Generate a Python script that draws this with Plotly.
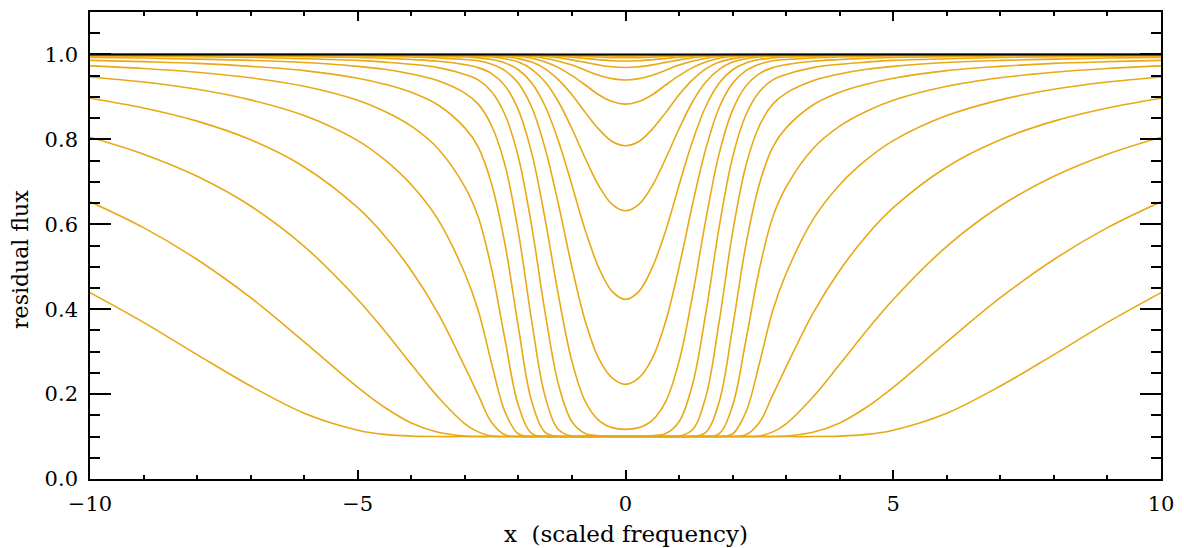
import plotly.graph_objects as go

# Half-profile sample positions (x >= 0); profiles are symmetric about x = 0
x_half = [0.0, 0.25, 0.5, 0.75, 1.0, 1.25, 1.5, 1.75, 2.0, 2.25, 2.5, 2.75,
          3.0, 3.5, 4.0, 4.5, 5.0, 6.0, 7.0, 8.0, 9.0, 10.0]

# Residual flux of each line, weakest to strongest (line-centre optical depth doubles each step)
flux_tau_1_256 = [0.9961, 0.9963, 0.9969, 0.9976, 0.9984, 0.9990, 0.9994, 0.9997, 0.9998, 0.9999, 1.0,
                  1.0, 1.0, 1.0, 1.0, 1.0, 1.0, 1.0, 1.0, 1.0, 1.0, 1.0]
flux_tau_1_128 = [0.9922, 0.9926, 0.9938, 0.9953, 0.9968, 0.9980, 0.9989, 0.9994, 0.9997, 0.9998, 0.9999,
                  0.9999, 0.9999, 1.0, 1.0, 1.0, 1.0, 1.0, 1.0, 1.0, 1.0, 1.0]
flux_tau_1_64 = [0.9845, 0.9853, 0.9876, 0.9906, 0.9936, 0.9961, 0.9978, 0.9988, 0.9994, 0.9997, 0.9998,
                 0.9999, 0.9999, 0.9999, 0.9999, 1.0, 1.0, 1.0, 1.0, 1.0, 1.0, 1.0]
flux_tau_1_32 = [0.9692, 0.9709, 0.9754, 0.9813, 0.9873, 0.9922, 0.9956, 0.9976, 0.9988, 0.9993, 0.9996,
                 0.9997, 0.9998, 0.9999, 0.9999, 0.9999, 0.9999, 1.0, 1.0, 1.0, 1.0, 1.0]
flux_tau_1_16 = [0.940, 0.943, 0.951, 0.963, 0.975, 0.984, 0.991, 0.9953, 0.9975, 0.9986, 0.9992,
                 0.9995, 0.9996, 0.9997, 0.9998, 0.9998, 0.9999, 0.9999, 0.9999, 1.0, 1.0, 1.0]
flux_tau_1_8 = [0.883, 0.889, 0.905, 0.928, 0.950, 0.969, 0.982, 0.991, 0.995, 0.9973, 0.9984,
                0.9989, 0.9992, 0.9994, 0.9996, 0.9997, 0.9997, 0.9998, 0.9999, 0.9999, 0.9999, 0.9999]
flux_tau_1_4 = [0.785, 0.795, 0.824, 0.863, 0.905, 0.940, 0.966, 0.982, 0.990, 0.9947, 0.9968,
                0.9979, 0.9984, 0.9989, 0.9992, 0.9994, 0.9995, 0.9997, 0.9998, 0.9998, 0.9999, 0.9999]
flux_tau_1_2 = [0.632, 0.647, 0.691, 0.755, 0.825, 0.888, 0.935, 0.965, 0.982, 0.990, 0.994,
                0.9959, 0.9968, 0.9979, 0.9984, 0.9988, 0.9990, 0.9994, 0.9995, 0.9996, 0.9997, 0.9998]
flux_tau_1 = [0.423, 0.442, 0.498, 0.585, 0.692, 0.795, 0.878, 0.933, 0.964, 0.980, 0.988,
              0.992, 0.994, 0.996, 0.9970, 0.9977, 0.9981, 0.9987, 0.9991, 0.9993, 0.9995, 0.9996]
flux_tau_2 = [0.223, 0.238, 0.284, 0.371, 0.499, 0.646, 0.778, 0.875, 0.932, 0.962, 0.977,
              0.985, 0.988, 0.992, 0.994, 0.9955, 0.9964, 0.9976, 0.9982, 0.9986, 0.9989, 0.9991]
flux_tau_4 = [0.117, 0.121, 0.138, 0.182, 0.277, 0.431, 0.611, 0.767, 0.869, 0.926, 0.955,
              0.969, 0.976, 0.984, 0.988, 0.991, 0.993, 0.995, 0.9965, 0.9973, 0.9979, 0.9983]
flux_tau_8 = [0.100, 0.100, 0.102, 0.107, 0.135, 0.222, 0.391, 0.594, 0.758, 0.858, 0.912,
              0.940, 0.953, 0.969, 0.977, 0.982, 0.986, 0.990, 0.993, 0.9946, 0.9958, 0.9966]
flux_tau_16 = [0.100, 0.100, 0.100, 0.100, 0.101, 0.116, 0.194, 0.371, 0.581, 0.739, 0.832,
               0.883, 0.909, 0.938, 0.954, 0.965, 0.972, 0.981, 0.986, 0.989, 0.9915, 0.9932]
flux_tau_32 = [0.100, 0.100, 0.100, 0.100, 0.100, 0.100, 0.110, 0.182, 0.357, 0.553, 0.695,
               0.782, 0.827, 0.881, 0.911, 0.930, 0.944, 0.962, 0.972, 0.979, 0.983, 0.986]
flux_tau_64 = [0.100, 0.100, 0.100, 0.100, 0.100, 0.100, 0.100, 0.107, 0.173, 0.328, 0.494,
               0.617, 0.688, 0.778, 0.831, 0.866, 0.892, 0.925, 0.945, 0.958, 0.967, 0.973]
flux_tau_128 = [0.100, 0.100, 0.100, 0.100, 0.100, 0.100, 0.100, 0.100, 0.106, 0.158, 0.272,
                0.397, 0.484, 0.611, 0.693, 0.752, 0.797, 0.856, 0.893, 0.918, 0.935, 0.947]
flux_tau_256 = [0.100, 0.100, 0.100, 0.100, 0.100, 0.100, 0.100, 0.100, 0.100, 0.104, 0.133,
                0.198, 0.264, 0.390, 0.491, 0.573, 0.639, 0.735, 0.799, 0.843, 0.874, 0.897]
flux_tau_512 = [0.100, 0.100, 0.100, 0.100, 0.100, 0.100, 0.100, 0.100, 0.100, 0.100, 0.101,
                0.111, 0.130, 0.193, 0.270, 0.349, 0.423, 0.548, 0.643, 0.713, 0.765, 0.805]
flux_tau_1024 = [0.100, 0.100, 0.100, 0.100, 0.100, 0.100, 0.100, 0.100, 0.100, 0.100, 0.100,
                 0.100, 0.101, 0.110, 0.132, 0.169, 0.216, 0.323, 0.427, 0.517, 0.592, 0.653]
flux_tau_2048 = [0.100, 0.100, 0.100, 0.100, 0.100, 0.100, 0.100, 0.100, 0.100, 0.100, 0.100,
                 0.100, 0.100, 0.100, 0.101, 0.105, 0.115, 0.155, 0.219, 0.293, 0.369, 0.439]

line_profiles = [
    flux_tau_1_256, flux_tau_1_128, flux_tau_1_64, flux_tau_1_32, flux_tau_1_16,
    flux_tau_1_8, flux_tau_1_4, flux_tau_1_2, flux_tau_1, flux_tau_2, flux_tau_4,
    flux_tau_8, flux_tau_16, flux_tau_32, flux_tau_64, flux_tau_128, flux_tau_256,
    flux_tau_512, flux_tau_1024, flux_tau_2048,
]

continuum_x = [-10.0, 10.0]
continuum_level = [1.0, 1.0]

x_ticks = [-10, -5, 0, 5, 10]
y_ticks = [0.0, 0.2, 0.4, 0.6, 0.8, 1.0]

LINE_COLOR = "#E8A915"
FONT = "DejaVu Serif"


def mirror(half):
    """Reflect a half profile (x >= 0) to cover both sides of line centre."""
    return list(reversed(half[1:])) + list(half)


x_full = [-v for v in reversed(x_half[1:])] + list(x_half)

fig = go.Figure()
for flux in line_profiles:
    fig.add_trace(go.Scatter(
        x=x_full, y=mirror(flux), mode="lines",
        line=dict(color=LINE_COLOR, width=1.6, shape="spline"),
        hoverinfo="skip", showlegend=False,
    ))

# continuum level drawn on top
fig.add_trace(go.Scatter(
    x=continuum_x, y=continuum_level, mode="lines",
    line=dict(color="black", width=2), hoverinfo="skip", showlegend=False,
))

axis_common = dict(
    showline=True, linecolor="black", linewidth=1.6, mirror="ticks",
    ticks="inside", tickcolor="black", tickwidth=1.5,
    showgrid=False, zeroline=False,
    tickfont=dict(family=FONT, size=21, color="black"),
)

fig.update_xaxes(
    range=[-10, 10], tickmode="array", tickvals=x_ticks,
    ticklen=9, ticklabelstandoff=5,
    minor=dict(dtick=1, tick0=0, ticklen=4.5, tickwidth=1.5, tickcolor="black", ticks="inside"),
    **axis_common,
)
fig.update_yaxes(
    range=[0, 1.1], tickmode="array", tickvals=y_ticks, tickformat=".1f",
    ticklen=21, ticklabelstandoff=6,
    minor=dict(dtick=0.05, tick0=0, ticklen=10.5, tickwidth=1.5, tickcolor="black", ticks="inside"),
    **axis_common,
)

fig.update_layout(
    width=1184, height=548,
    margin=dict(l=90, r=21, t=10, b=69),
    paper_bgcolor="white", plot_bgcolor="white",
    font=dict(family=FONT, size=21, color="black"),
    showlegend=False,
    annotations=[
        dict(text="x\u00a0\u00a0(scaled frequency)", xref="paper", yref="paper",
             x=0.5, y=-0.117, xanchor="center", yanchor="middle", showarrow=False,
             font=dict(family=FONT, size=23, color="black")),
        dict(text="residual flux", xref="paper", yref="paper", textangle=-90,
             x=-0.065, y=0.47, xanchor="center", yanchor="middle", showarrow=False,
             font=dict(family=FONT, size=22, color="black")),
    ],
)

fig.write_html("out.html")
